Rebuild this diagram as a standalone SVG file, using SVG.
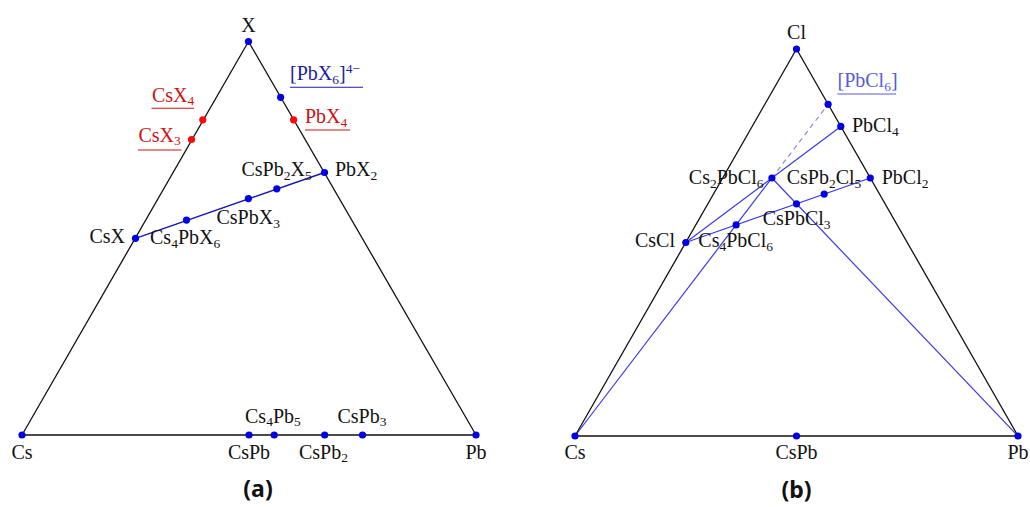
<svg xmlns="http://www.w3.org/2000/svg" width="1030" height="507" viewBox="0 0 1030 507">
<style>
text{font-family:"Liberation Serif","Times New Roman",serif;font-size:20px;fill:#111}
.cap{font-family:"Noto Sans","Open Sans",sans-serif;font-size:23px;font-weight:bold;fill:#111;text-anchor:middle}
.red{fill:#d01010}
.navy{fill:#1c1c9c}
.lb{fill:#5858e0}
.tri{fill:none;stroke:#111;stroke-width:1.3}
.bl{stroke:#1616b0;stroke-width:1.4;fill:none}
.bl2{stroke:#3a3ae6;stroke-width:1.2;fill:none}
.dash{stroke:#8a8af0;stroke-width:1.2;stroke-dasharray:5 4;fill:none}
.d{fill:#0000e6}
.r{fill:#ff0808}
.ul-r{stroke:#d01010;stroke-width:1.1}
.ul-b{stroke:#1c1c9c;stroke-width:1.1}
.ul-lb{stroke:#5858e0;stroke-width:1.1}
</style>

<!-- Panel (a) -->
<g id="panel-a">
<polygon class="tri" points="248.5,41.5 22,435 476,435"/>
</g>
<g id="connectors">
<line class="bl" x1="135.5" y1="238.3" x2="324.5" y2="172.5"/>
<line class="bl2" x1="685.8" y1="242.5" x2="870.3" y2="178"/>
<line class="bl2" x1="685.8" y1="242.5" x2="771.9" y2="178"/>
<line class="bl2" x1="771.9" y1="178" x2="840.8" y2="126.4"/>
<line class="dash" x1="771.9" y1="178" x2="828.1" y2="104.3"/>
<line class="bl2" x1="575" y1="436" x2="771.9" y2="178"/>
<line class="bl2" x1="771.9" y1="178" x2="1018" y2="436"/>
</g>

<g id="node-X"><circle class="d" cx="248.5" cy="41.5" r="3.6"/><text x="248.5" y="32" text-anchor="middle">X</text></g>
<g id="node-PbX6"><circle class="d" cx="280.6" cy="97.3" r="3.6"/><text class="navy" x="290" y="80">[PbX<tspan font-size="13.5" dy="3.5">6</tspan><tspan dy="-3.5">]</tspan><tspan font-size="13.5" dy="-7">4−</tspan></text><line class="ul-b" x1="290" y1="87.3" x2="363" y2="87.3"/></g>
<g id="node-CsX4"><circle class="r" cx="202.8" cy="119.8" r="3.6"/><text class="red" x="152" y="101.5">CsX<tspan font-size="13.5" dy="3.5">4</tspan></text><line class="ul-r" x1="151.5" y1="108.3" x2="194" y2="108.3"/></g>
<g id="node-CsX3"><circle class="r" cx="191.5" cy="139.5" r="3.6"/><text class="red" x="138.5" y="141.5">CsX<tspan font-size="13.5" dy="3.5">3</tspan></text><line class="ul-r" x1="138" y1="150" x2="181.5" y2="150"/></g>
<g id="node-PbX4"><circle class="r" cx="293.6" cy="119.8" r="3.6"/><text class="red" x="305" y="123.3">PbX<tspan font-size="13.5" dy="3.5">4</tspan></text><line class="ul-r" x1="305" y1="130" x2="350" y2="130"/></g>
<g id="node-PbX2"><circle class="d" cx="324.5" cy="172.5" r="3.6"/><text x="335" y="176">PbX<tspan font-size="13.5" dy="3.5">2</tspan></text></g>
<g id="node-CsPb2X5"><circle class="d" cx="276.8" cy="188.8" r="3.6"/><text x="241.5" y="176">CsPb<tspan font-size="13.5" dy="3.5">2</tspan><tspan dy="-3.5">X</tspan><tspan font-size="13.5" dy="3.5">5</tspan></text></g>
<g id="node-CsPbX3"><circle class="d" cx="248.4" cy="198.6" r="3.6"/><text x="216.5" y="224">CsPbX<tspan font-size="13.5" dy="3.5">3</tspan></text></g>
<g id="node-Cs4PbX6"><circle class="d" cx="186.5" cy="220.1" r="3.6"/><text x="150" y="244">Cs<tspan font-size="13.5" dy="3.5">4</tspan><tspan dy="-3.5">PbX</tspan><tspan font-size="13.5" dy="3.5">6</tspan></text></g>
<g id="node-CsX"><circle class="d" cx="135.5" cy="238.3" r="3.6"/><text x="125" y="243" text-anchor="end">CsX</text></g>
<g id="node-Cs-a"><circle class="d" cx="22" cy="435" r="3.6"/><text x="22" y="458.5" text-anchor="middle">Cs</text></g>
<g id="node-CsPb-a"><circle class="d" cx="249" cy="435" r="3.6"/><text x="249" y="458.5" text-anchor="middle">CsPb</text></g>
<g id="node-Cs4Pb5"><circle class="d" cx="274.2" cy="435" r="3.6"/><text x="245" y="422.7">Cs<tspan font-size="13.5" dy="3.5">4</tspan><tspan dy="-3.5">Pb</tspan><tspan font-size="13.5" dy="3.5">5</tspan></text></g>
<g id="node-CsPb2"><circle class="d" cx="324.7" cy="435" r="3.6"/><text x="299" y="458.5">CsPb<tspan font-size="13.5" dy="3.5">2</tspan></text></g>
<g id="node-CsPb3"><circle class="d" cx="362.5" cy="435" r="3.6"/><text x="337.5" y="422.7">CsPb<tspan font-size="13.5" dy="3.5">3</tspan></text></g>
<g id="node-Pb-a"><circle class="d" cx="476" cy="435" r="3.6"/><text x="476" y="458.5" text-anchor="middle">Pb</text></g>
<text class="cap" x="258" y="497">(a)</text>

<!-- Panel (b) -->
<g id="panel-b">
<polygon class="tri" points="796.5,49 575,436 1018,436"/>
</g>
<g id="node-Cl"><circle class="d" cx="796.5" cy="49" r="3.6"/><text x="796.5" y="39.3" text-anchor="middle">Cl</text></g>
<g id="node-PbCl6"><circle class="d" cx="828.1" cy="104.3" r="3.6"/><text class="lb" x="837.5" y="87.3">[PbCl<tspan font-size="13.5" dy="3.5">6</tspan><tspan dy="-3.5">]</tspan></text><line class="ul-lb" x1="837.3" y1="94" x2="896" y2="94"/></g>
<g id="node-PbCl4"><circle class="d" cx="840.8" cy="126.4" r="3.6"/><text x="852" y="132.3">PbCl<tspan font-size="13.5" dy="3.5">4</tspan></text></g>
<g id="node-PbCl2"><circle class="d" cx="870.3" cy="178" r="3.6"/><text x="881.7" y="184.3">PbCl<tspan font-size="13.5" dy="3.5">2</tspan></text></g>
<g id="node-Cs2PbCl6"><circle class="d" cx="771.9" cy="178" r="3.6"/><text x="763.5" y="184.3" text-anchor="end">Cs<tspan font-size="13.5" dy="3.5">2</tspan><tspan dy="-3.5">PbCl</tspan><tspan font-size="13.5" dy="3.5">6</tspan></text></g>
<g id="node-CsPb2Cl5"><circle class="d" cx="824.2" cy="194.1" r="3.6"/><text x="786.7" y="184.3">CsPb<tspan font-size="13.5" dy="3.5">2</tspan><tspan dy="-3.5">Cl</tspan><tspan font-size="13.5" dy="3.5">5</tspan></text></g>
<g id="node-CsPbCl3"><circle class="d" cx="796.5" cy="203.8" r="3.6"/><text x="762.7" y="225.3">CsPbCl<tspan font-size="13.5" dy="3.5">3</tspan></text></g>
<g id="node-Cs4PbCl6"><circle class="d" cx="736.1" cy="224.9" r="3.6"/><text x="698.3" y="247">Cs<tspan font-size="13.5" dy="3.5">4</tspan><tspan dy="-3.5">PbCl</tspan><tspan font-size="13.5" dy="3.5">6</tspan></text></g>
<g id="node-CsCl"><circle class="d" cx="685.8" cy="242.5" r="3.6"/><text x="675" y="246.7" text-anchor="end">CsCl</text></g>
<g id="node-Cs-b"><circle class="d" cx="575" cy="436" r="3.6"/><text x="575" y="458.5" text-anchor="middle">Cs</text></g>
<g id="node-CsPb-b"><circle class="d" cx="796.5" cy="436" r="3.6"/><text x="796.5" y="458.5" text-anchor="middle">CsPb</text></g>
<g id="node-Pb-b"><circle class="d" cx="1018" cy="436" r="3.6"/><text x="1018" y="458.5" text-anchor="middle">Pb</text></g>
<text class="cap" x="796.5" y="497.5">(b)</text>
</svg>
